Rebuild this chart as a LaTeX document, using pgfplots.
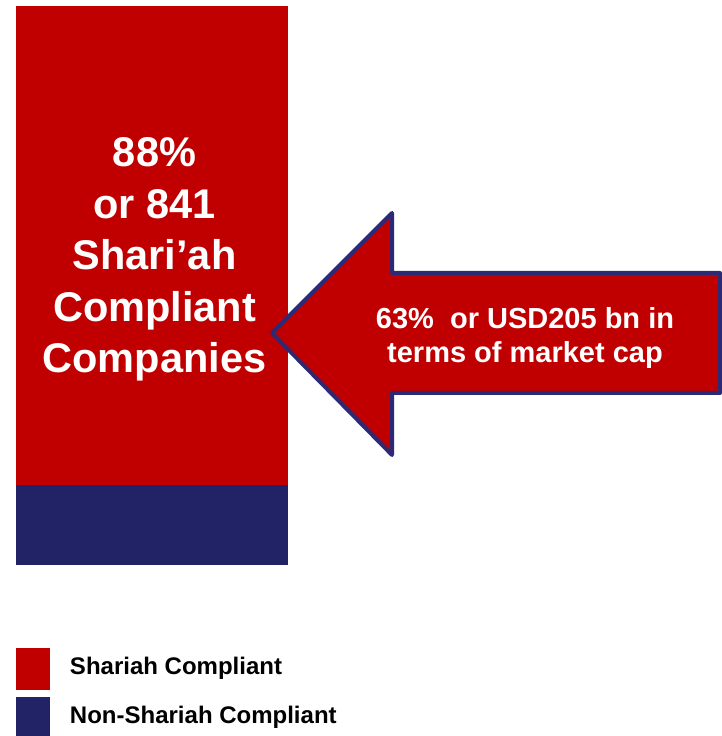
\documentclass[border=0pt]{standalone}
\usepackage{pgfplots}
\pgfplotsset{compat=1.18}
\usepackage{fontspec}
\setmainfont{Liberation Sans}
\definecolor{shred}{RGB}{192,0,0}
\definecolor{shnavy}{RGB}{34,34,102}
\definecolor{arrnavy}{RGB}{44,42,116}
\begin{document}
\begin{tikzpicture}
\path[use as bounding box] (0pt,0pt) rectangle (722pt,736pt);
\begin{axis}[
  at={(16pt,171pt)}, anchor=south west,
  scale only axis, width=272pt, height=559pt,
  hide axis, xmin=0, xmax=1, ymin=0, ymax=981,
  ybar stacked, bar width=272pt,
  reverse legend,
  legend style={at={(0,-0.1485)}, anchor=north west, draw=none, fill=none,
    inner sep=0pt, outer sep=0pt, row sep=7pt,
    nodes={inner sep=0pt, outer sep=0pt, text=black, font=\fontsize{24}{28}\selectfont\bfseries},
    /tikz/every odd column/.append style={column sep=20pt}},
  legend cell align=left,
  legend image code/.code={\fill[#1] (0pt,-23pt) rectangle (34pt,19pt);},
]
\addplot[fill=shnavy, draw=none] coordinates {(0.5,140)};
\addlegendentry{Non-Shariah Compliant}
\addplot[fill=shred, draw=none] coordinates {(0.5,841)};
\addlegendentry{Shariah Compliant}
\end{axis}
\begin{scope}[x=1pt,y=1pt]
\foreach \t/\yy in {88\%/569, or 841/517.5, Shari’ah/466, Compliant/414.5, Companies/363}
  \node[anchor=base, text=white, font=\fontsize{41.5}{49}\selectfont\bfseries, inner sep=0pt] at (154.5,\yy) {\t};
\fill[shred, draw=arrnavy, line width=4pt, line join=round]
  (272,403) -- (392,523) -- (392,463) -- (720,463) -- (720,343) -- (392,343) -- (392,281) -- cycle;
\node[anchor=base, text=white, font=\fontsize{29}{34}\selectfont\bfseries, inner sep=0pt] at (525,407) {63\%\ \ or USD205 bn in};
\node[anchor=base, text=white, font=\fontsize{29}{34}\selectfont\bfseries, inner sep=0pt] at (525,373) {terms of market cap};
\end{scope}
\end{tikzpicture}
\end{document}
